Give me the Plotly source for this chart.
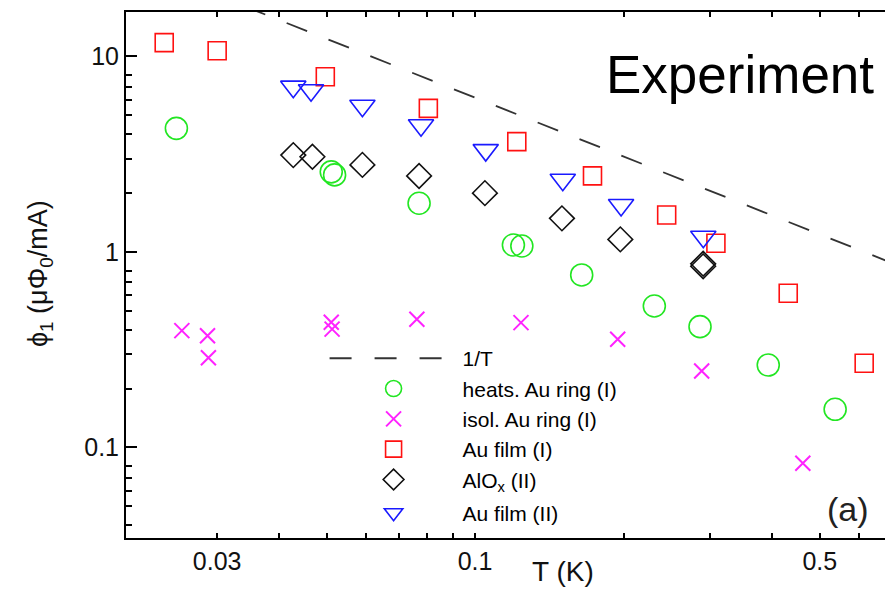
import plotly.graph_objects as go

# ---------------- data ----------------
heats_T = [0.0248, 0.0511, 0.0519, 0.0770, 0.1196, 0.1244, 0.1645, 0.2309, 0.2858, 0.393, 0.537]
heats_phi = [4.29, 2.57, 2.48, 1.775, 1.086, 1.073, 0.763, 0.5295, 0.415, 0.264, 0.1568]

isol_T = [0.02544, 0.02868, 0.0288, 0.0511, 0.0513, 0.0762, 0.1239, 0.1946, 0.2880, 0.4618]
isol_phi = [0.396, 0.373, 0.288, 0.437, 0.403, 0.4527, 0.435, 0.3577, 0.246, 0.083]

film1_T = [0.02343, 0.0300, 0.0497, 0.0804, 0.1215, 0.173, 0.2446, 0.3078, 0.4314, 0.615]
film1_phi = [11.77, 10.7, 7.88, 5.43, 3.67, 2.45, 1.546, 1.108, 0.615, 0.2696]

alox_T = [0.0428, 0.0468, 0.0591, 0.0770, 0.1047, 0.150, 0.197, 0.290, 0.290]
alox_phi = [3.13, 3.07, 2.79, 2.45, 2.0, 1.486, 1.16, 0.87, 0.845]

film2_T = [0.0428, 0.0465, 0.0591, 0.0777, 0.1051, 0.1506, 0.1977, 0.2902]
film2_phi = [7.01, 6.72, 5.6, 4.45, 3.32, 2.34, 1.74, 1.197]

# 1/T guide line (end points)
line_T = [0.019, 0.72]
line_phi = [32.4, 0.855]

x_tick_vals = [0.03, 0.1, 0.5]
x_tick_text = ["0.03", "0.1", "0.5"]
x_minor_vals = [0.04, 0.05, 0.06, 0.07, 0.08, 0.09, 0.2, 0.3, 0.4, 0.6]
x_long_vals = [0.1]
y_tick_vals = [0.1, 1, 10]
y_tick_text = ["0.1", "1", "10"]
y_minor_vals = [0.04, 0.05, 0.06, 0.07, 0.08, 0.2, 0.3, 0.4, 0.5, 0.6, 0.7, 0.8,
                2, 3, 4, 5, 6, 7, 8]

FONT = "Liberation Sans, Arial, Helvetica, sans-serif"

fig = go.Figure()

fig.add_trace(go.Scatter(
    x=line_T, y=line_phi, mode="lines", name="1/T", legendgroup="g1",
    line=dict(color="#333333", width=1.8, dash="22px,23px"),
))
fig.add_trace(go.Scatter(
    x=heats_T, y=heats_phi, mode="markers", name="heats. Au ring (I)", legendgroup="g1",
    marker=dict(symbol="circle-open", size=22, color="#22e622", line=dict(width=1.6)),
))
fig.add_trace(go.Scatter(
    x=isol_T, y=isol_phi, mode="markers", name="isol. Au ring (I)", legendgroup="g1",
    marker=dict(symbol="x-thin-open", size=15, color="#ff22ff", line=dict(width=2, color="#ff22ff")),
))
fig.add_trace(go.Scatter(
    x=film1_T, y=film1_phi, mode="markers", name="Au film (I)", legendgroup="g1",
    marker=dict(symbol="square-open", size=18, color="#ff1111", line=dict(width=1.6)),
))
fig.add_trace(go.Scatter(
    x=alox_T, y=alox_phi, mode="markers", name="AlO<sub>x</sub> (II)", legendgroup="g1",
    marker=dict(symbol="diamond-open", size=19, color="#111111", line=dict(width=1.6)),
))
fig.add_trace(go.Scatter(
    x=film2_T, y=film2_phi, mode="markers", name="Au film (II)", legendgroup="g2",
    marker=dict(symbol="triangle-down-open", size=22, color="#1a1aff", line=dict(width=1.6)),
))

x_range = [-1.7077, -0.1527]
y_range = [-1.463, 1.2276]

fig.update_layout(
    width=885, height=582,
    margin=dict(l=118, r=0, t=4, b=52),
    paper_bgcolor="white", plot_bgcolor="white",
    font=dict(family=FONT, color="black"),
    showlegend=True,
    legend=dict(
        x=0.2589, y=0.38, xanchor="left", yanchor="top",
        bgcolor="rgba(0,0,0,0)", borderwidth=0,
        font=dict(family=FONT, size=21, color="black"),
        itemwidth=128, tracegroupgap=3,
    ),
    xaxis=dict(
        type="log", range=x_range, showgrid=False, zeroline=False,
        showline=True, linecolor="black", linewidth=2, mirror="ticks",
        ticks="inside", ticklen=5, tickwidth=1.5, tickcolor="black",
        tickmode="array", tickvals=x_tick_vals, ticktext=x_tick_text,
        tickfont=dict(family=FONT, size=25, color="#111111"),
        minor=dict(tickmode="array", tickvals=x_minor_vals, ticks="inside",
                   ticklen=5, tickwidth=1.5, tickcolor="black", showgrid=False),
    ),
    xaxis2=dict(
        type="log", range=x_range, overlaying="x", anchor="y", side="bottom",
        showgrid=False, zeroline=False, showline=False, mirror="ticks",
        ticks="inside", ticklen=9, tickwidth=1.5, tickcolor="black",
        tickmode="array", tickvals=x_long_vals, showticklabels=False,
    ),
    yaxis=dict(
        type="log", range=y_range, showgrid=False, zeroline=False,
        showline=True, linecolor="black", linewidth=2, mirror=False,
        ticks="inside", ticklen=11, tickwidth=1.5, tickcolor="black",
        tickmode="array", tickvals=y_tick_vals, ticktext=y_tick_text,
        tickfont=dict(family=FONT, size=25, color="#111111"),
        minor=dict(tickmode="array", tickvals=y_minor_vals, ticks="inside",
                   ticklen=6, tickwidth=1.5, tickcolor="black", showgrid=False),
    ),
)

ann = [
    dict(text="Experiment T", x=0.6232, y=0.882, xanchor="left", yanchor="middle",
         font=dict(size=53, family=FONT, color="black")),
    dict(text="(a)", x=0.9413, y=0.0551, xanchor="center", yanchor="middle",
         font=dict(size=34, family=FONT, color="#222222")),
    dict(text="T (K)", x=0.5698, y=-0.0646, xanchor="center", yanchor="middle",
         font=dict(size=28, family=FONT, color="#111111")),
    dict(text="\u03d5<sub>1</sub> (\u03bc\u03a6<sub>0</sub>/mA)", x=-0.1121, y=0.5019,
         xanchor="center", yanchor="middle", textangle=-90,
         font=dict(size=27, family=FONT, color="#111111")),
]
for a in ann:
    a.update(xref="paper", yref="paper", showarrow=False)
fig.update_layout(annotations=ann)

fig.write_html("out.html")
